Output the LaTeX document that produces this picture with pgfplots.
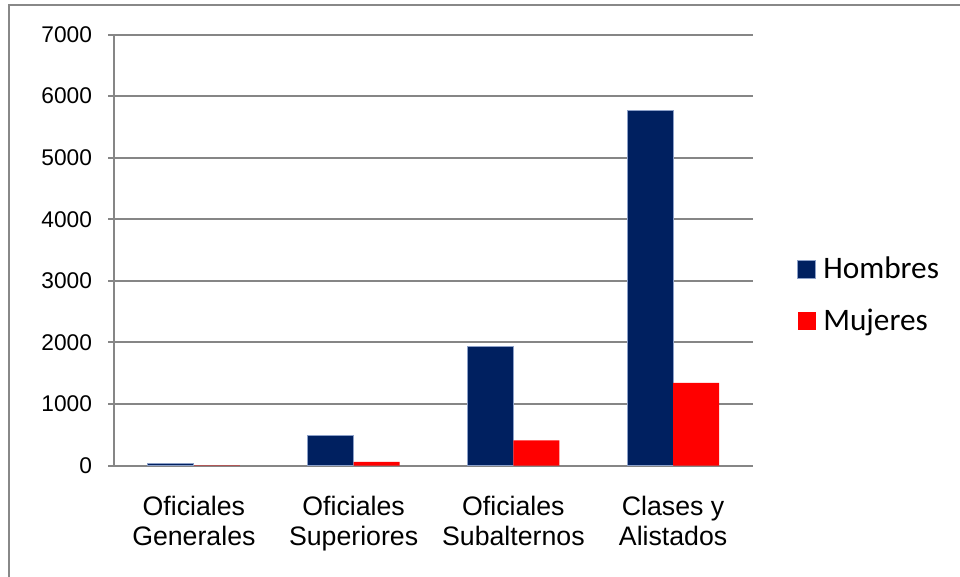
\documentclass[border=0pt]{standalone}
\usepackage{pgfplots}
\pgfplotsset{compat=1.18}
\usepackage{fontspec}
\setmainfont{Liberation Sans}
\newfontfamily\legfont{Carlito}
\definecolor{hombres}{RGB}{0,32,96}
\definecolor{hombresedge}{RGB}{140,160,200}
\definecolor{mujeres}{RGB}{255,0,0}
\definecolor{axisgray}{RGB}{134,134,134}
\definecolor{framegray}{RGB}{136,136,136}
\begin{document}
\begin{tikzpicture}
\useasboundingbox (-57bp,-55.75bp) rectangle (423bp,232.75bp);
\draw[framegray, line width=1.2bp] (-52.5bp,-60bp) -- (-52.5bp,230.25bp) -- (430bp,230.25bp);
\begin{axis}[
    at={(0,0)}, anchor=south west,
    scale only axis,
    width=319.5bp, height=215.5bp,
    ybar=0pt, bar width=23bp,
    xmin=-0.5, xmax=3.5,
    ymin=0, ymax=7000,
    ytick={0,1000,...,7000},
    xtick={0,1,2,3},
    xticklabels={{Oficiales\\Generales},{Oficiales\\Superiores},{Oficiales\\Subalternos},{Clases y\\Alistados}},
    x tick label style={font=\fontsize{13.4}{15}\selectfont, align=center, yshift=-9bp},
    y tick label style={font=\fontsize{11.4}{13}\selectfont, xshift=-4.5bp},
    /pgf/number format/assume math mode=true,
    /pgf/number format/set thousands separator={},
    major x tick style={draw=none},
    extra x ticks={-0.5,0.5,1.5,2.5,3.5},
    extra x tick labels={},
    extra x tick style={major tick length=3bp, tick style={axisgray, line width=1bp}},
    axis x line=bottom, axis y line=left,
    axis line style={-, axisgray, line width=1bp},
    tick align=outside, major tick length=3bp,
    tick style={axisgray, line width=1bp},
    ymajorgrids, grid style={axisgray, line width=1bp},
    legend style={draw=none, fill=none, at={(1.0594,0.395)}, anchor=west,
        font=\legfont\fontsize{15.7}{18}\selectfont, row sep=9.5bp,
        /tikz/every odd column/.append style={column sep=1.5bp}},
    legend cell align=left,
    legend image code/.code={\fill[#1] (0bp,-4.5bp) rectangle (9bp,4.5bp);},
]
\addplot[fill=hombres, draw=hombresedge, line width=0.5bp] coordinates {(0,25) (1,480) (2,1940) (3,5760)};
\addplot[fill=mujeres, draw=none] coordinates {(0,2) (1,60) (2,410) (3,1343)};
\legend{Hombres, Mujeres}
\end{axis}
\end{tikzpicture}
\end{document}
